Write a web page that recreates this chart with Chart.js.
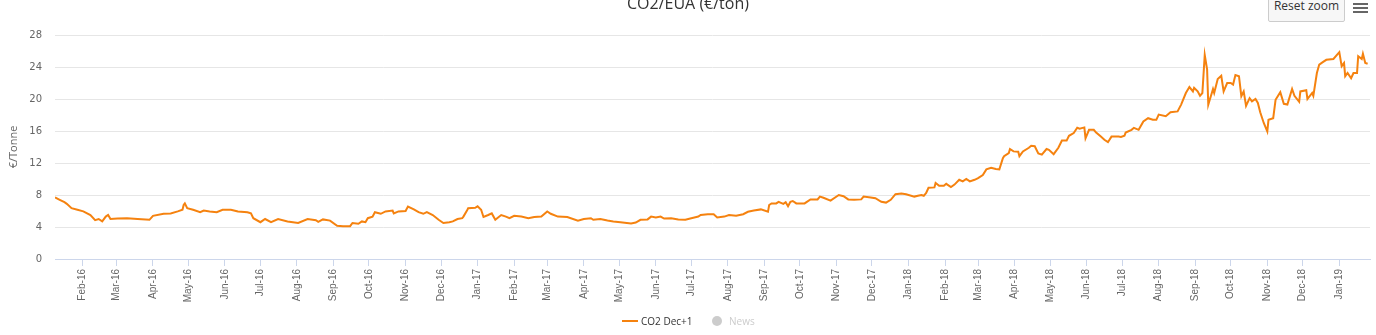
<!DOCTYPE html>
<html>
<head>
<meta charset="utf-8">
<title>CO2/EUA</title>
<script src="https://cdn.jsdelivr.net/npm/chart.js@4.4.1/dist/chart.umd.min.js"></script>
<style>
    body { margin: 0; background: #fff; }
    #contenedor { position: relative; width: 1376px; height: 335px; overflow: hidden; font-family: 'Open Sans', sans-serif; }
    #grafica { position: absolute; left: 0; top: 0; }
    .titulo { position: absolute; left: 0; top: -7px; width: 1376px; text-align: center; font-size: 16px; line-height: 20px; color: #333; }
    .reset { position: absolute; left: 1268px; top: -10px; width: 77px; height: 32px; box-sizing: border-box; background: #f7f7f7; border: 1px solid #ccc; border-radius: 2px; font-size: 12px; line-height: 30px; color: #333; text-align: center; }
    .menu span { position: absolute; left: 1353px; width: 15px; height: 2px; background: #666; }
    .leyenda { position: absolute; top: 314px; font-size: 10px; line-height: 14px; white-space: nowrap; }
</style>
</head>
<body>
<div id="contenedor">
    <canvas id="grafica" width="1376" height="335"></canvas>
    <div class="titulo">CO2/EUA (€/ton)</div>
    <div class="reset">Reset zoom</div>
    <div class="menu"><span style="top:3px"></span><span style="top:7px"></span><span style="top:11px"></span></div>
    <div style="position:absolute; left:622px; top:320px; width:16px; height:2px; background:#f5820f;"></div>
    <div class="leyenda" style="left:641px; color:#333;">CO2 Dec+1</div>
    <div style="position:absolute; left:712px; top:316px; width:10px; height:10px; border-radius:50%; background:#ccc;"></div>
    <div class="leyenda" style="left:729px; color:#ccc;">News</div>
</div>
<script>
// Precio CO2 Dec+1 (€/tonne), por año; cada línea es un mes
const fechas2016 = [
    '2016-01-09', '2016-01-13', '2016-01-17', '2016-01-19', '2016-01-23', '2016-01-28',
    '2016-02-02', '2016-02-08', '2016-02-12', '2016-02-15', '2016-02-18', '2016-02-21', '2016-02-23', '2016-02-25',
    '2016-03-02', '2016-03-10', '2016-03-19', '2016-03-29',
    '2016-04-01', '2016-04-10', '2016-04-16', '2016-04-22', '2016-04-26', '2016-04-27', '2016-04-28', '2016-04-30',
    '2016-05-05', '2016-05-11', '2016-05-14', '2016-05-19', '2016-05-25', '2016-05-30',
    '2016-06-06', '2016-06-12', '2016-06-20', '2016-06-23', '2016-06-25',
    '2016-07-01', '2016-07-05', '2016-07-10', '2016-07-16', '2016-07-24',
    '2016-08-02', '2016-08-10', '2016-08-17', '2016-08-19', '2016-08-23', '2016-08-29',
    '2016-09-04', '2016-09-09', '2016-09-15', '2016-09-17', '2016-09-22', '2016-09-25', '2016-09-28', '2016-09-30',
    '2016-10-04', '2016-10-06', '2016-10-11', '2016-10-15', '2016-10-21', '2016-10-22', '2016-10-26',
    '2016-11-01', '2016-11-03', '2016-11-08', '2016-11-12', '2016-11-16', '2016-11-19', '2016-11-24', '2016-11-29',
    '2016-12-03', '2016-12-08', '2016-12-11', '2016-12-15', '2016-12-19', '2016-12-20', '2016-12-23', '2016-12-24', '2016-12-30'
];
const valores2016 = [
    7.7, 7.4, 7.1, 6.9, 6.35, 6.15,
    5.95, 5.5, 4.85, 5.0, 4.7, 5.3, 5.5, 5.0,
    5.05, 5.1, 5.0, 4.9,
    5.4, 5.65, 5.7, 5.95, 6.15, 6.75, 6.95, 6.35,
    6.15, 5.85, 6.05, 5.95, 5.85, 6.15,
    6.15, 5.95, 5.85, 5.7, 5.1,
    4.6, 5.0, 4.6, 5.0, 4.7,
    4.5, 5.0, 4.85, 4.65, 4.95, 4.8,
    4.15, 4.1, 4.1, 4.5, 4.4, 4.7, 4.6, 5.1,
    5.3, 5.85, 5.65, 5.95, 6.05, 5.7, 5.95,
    6.0, 6.55, 6.2, 5.85, 5.65, 5.85, 5.5, 4.9,
    4.5, 4.6, 4.7, 5.0, 5.1, 5.3, 6.05, 6.35, 6.4
];

const fechas2017 = [
    '2017-01-01', '2017-01-04', '2017-01-06', '2017-01-10', '2017-01-13', '2017-01-16', '2017-01-21', '2017-01-25', '2017-01-28',
    '2017-02-01', '2017-02-07', '2017-02-13', '2017-02-18', '2017-02-24',
    '2017-03-01', '2017-03-04', '2017-03-10', '2017-03-18', '2017-03-27',
    '2017-04-01', '2017-04-07', '2017-04-09', '2017-04-15', '2017-04-21', '2017-04-26',
    '2017-05-02', '2017-05-11', '2017-05-15', '2017-05-19', '2017-05-25', '2017-05-28',
    '2017-06-01', '2017-06-05', '2017-06-08', '2017-06-14', '2017-06-20', '2017-06-26',
    '2017-07-01', '2017-07-07', '2017-07-09', '2017-07-15', '2017-07-20', '2017-07-23', '2017-07-29',
    '2017-08-02', '2017-08-08', '2017-08-14', '2017-08-18', '2017-08-23', '2017-08-29',
    '2017-09-04', '2017-09-05', '2017-09-07', '2017-09-11', '2017-09-13', '2017-09-17', '2017-09-19', '2017-09-21', '2017-09-23', '2017-09-25', '2017-09-28',
    '2017-10-05', '2017-10-10', '2017-10-16', '2017-10-18', '2017-10-21', '2017-10-27',
    '2017-11-03', '2017-11-07', '2017-11-11', '2017-11-16', '2017-11-22', '2017-11-24', '2017-11-30',
    '2017-12-04', '2017-12-09', '2017-12-13', '2017-12-17', '2017-12-21', '2017-12-26', '2017-12-30'
];
const valores2017 = [
    6.6, 6.15, 5.25, 5.5, 5.7, 4.9, 5.5, 5.3, 5.1,
    5.4, 5.3, 5.1, 5.25, 5.3,
    5.95, 5.65, 5.3, 5.25, 4.8,
    5.0, 5.1, 4.9, 5.0, 4.8, 4.7,
    4.6, 4.45, 4.55, 4.9, 4.95, 5.3,
    5.2, 5.3, 5.05, 5.1, 4.95, 4.9,
    5.1, 5.3, 5.5, 5.6, 5.6, 5.2, 5.3,
    5.5, 5.4, 5.6, 5.9, 6.05, 6.2,
    5.9, 6.75, 6.95, 6.95, 7.15, 6.9, 7.1, 6.6, 7.15, 7.25, 6.95,
    6.95, 7.45, 7.45, 7.8, 7.65, 7.3,
    8.0, 7.85, 7.45, 7.4, 7.45, 7.8, 7.7,
    7.6, 7.15, 7.05, 7.4, 8.1, 8.2, 8.1
];

const fechas2018 = [
    '2018-01-06', '2018-01-09', '2018-01-12', '2018-01-14', '2018-01-16', '2018-01-18', '2018-01-23', '2018-01-24', '2018-01-27', '2018-01-31',
    '2018-02-02', '2018-02-06', '2018-02-09', '2018-02-13', '2018-02-16', '2018-02-19', '2018-02-22', '2018-02-26',
    '2018-03-01', '2018-03-05', '2018-03-08', '2018-03-12', '2018-03-16', '2018-03-19', '2018-03-22', '2018-03-23', '2018-03-27', '2018-03-28', '2018-03-31',
    '2018-04-04', '2018-04-05', '2018-04-08', '2018-04-13', '2018-04-15', '2018-04-18', '2018-04-21', '2018-04-24', '2018-04-28', '2018-04-30',
    '2018-05-04', '2018-05-08', '2018-05-11', '2018-05-15', '2018-05-17', '2018-05-21', '2018-05-24', '2018-05-26', '2018-05-30', '2018-05-31',
    '2018-06-03', '2018-06-07', '2018-06-09', '2018-06-13', '2018-06-16', '2018-06-19', '2018-06-22', '2018-06-28', '2018-06-30',
    '2018-07-03', '2018-07-04', '2018-07-09', '2018-07-11', '2018-07-15', '2018-07-19', '2018-07-23', '2018-07-27', '2018-07-30',
    '2018-08-01', '2018-08-07', '2018-08-11', '2018-08-17', '2018-08-20', '2018-08-24', '2018-08-27', '2018-08-30', '2018-08-31',
    '2018-09-03', '2018-09-05', '2018-09-07', '2018-09-09', '2018-09-11', '2018-09-12', '2018-09-15', '2018-09-16', '2018-09-17', '2018-09-20', '2018-09-23', '2018-09-25', '2018-09-28',
    '2018-10-01', '2018-10-03', '2018-10-05', '2018-10-08', '2018-10-10', '2018-10-12', '2018-10-14', '2018-10-17', '2018-10-19', '2018-10-22', '2018-10-24', '2018-10-26', '2018-10-29',
    '2018-11-01', '2018-11-02', '2018-11-06', '2018-11-08', '2018-11-12', '2018-11-15', '2018-11-18', '2018-11-22', '2018-11-24', '2018-11-28', '2018-11-29',
    '2018-12-04', '2018-12-05', '2018-12-09', '2018-12-10', '2018-12-13', '2018-12-15', '2018-12-18', '2018-12-21', '2018-12-27'
];
const valores2018 = [
    7.8, 7.9, 8.0, 7.9, 8.25, 8.9, 8.95, 9.5, 9.15, 9.15,
    9.4, 9.0, 9.3, 9.9, 9.7, 10.0, 9.7, 9.9,
    10.1, 10.5, 11.2, 11.4, 11.25, 11.2, 12.6, 12.85, 13.25, 13.75, 13.45,
    13.4, 12.85, 13.45, 13.9, 14.15, 14.1, 13.2, 13.05, 13.75, 13.65,
    13.1, 13.9, 14.8, 14.8, 15.4, 15.75, 16.4, 16.3, 16.45, 15.1,
    16.15, 16.15, 15.8, 15.3, 14.9, 14.6, 15.3, 15.3, 15.25,
    15.4, 15.8, 16.15, 16.4, 16.15, 17.2, 17.6, 17.4, 17.4,
    18.05, 17.85, 18.35, 18.45, 19.3, 20.75, 21.5, 20.95, 21.4,
    20.95, 20.4, 20.75, 25.5, 23.7, 19.3, 20.75, 21.25, 20.75, 22.5, 22.9, 20.95, 22.0,
    22.0, 21.8, 23.0, 22.85, 20.35, 20.95, 19.15, 20.1, 19.7, 20.0, 19.5, 18.35, 17.0,
    15.95, 17.4, 17.6, 19.9, 20.85, 19.4, 19.3, 21.25, 20.4, 19.65, 20.95,
    21.1, 20.0, 20.75, 20.4, 23.25, 24.3, 24.6, 24.9, 25.0
];

const fechas2019 = [
    '2019-01-01', '2019-01-03', '2019-01-05', '2019-01-06', '2019-01-08', '2019-01-11', '2019-01-13', '2019-01-16', '2019-01-17', '2019-01-20', '2019-01-21', '2019-01-23', '2019-01-25'
];
const valores2019 = [
    25.85, 24.1, 24.5, 22.85, 23.25, 22.6, 23.25, 23.25, 25.35, 25.0, 25.65, 24.5, 24.4
];

// Etiquetas del eje X (inicio de cada mes)
const etiquetasMes = [
    'Feb-16', 'Mar-16', 'Apr-16', 'May-16', 'Jun-16', 'Jul-16', 'Aug-16', 'Sep-16', 'Oct-16', 'Nov-16', 'Dec-16',
    'Jan-17', 'Feb-17', 'Mar-17', 'Apr-17', 'May-17', 'Jun-17', 'Jul-17', 'Aug-17', 'Sep-17', 'Oct-17', 'Nov-17', 'Dec-17',
    'Jan-18', 'Feb-18', 'Mar-18', 'Apr-18', 'May-18', 'Jun-18', 'Jul-18', 'Aug-18', 'Sep-18', 'Oct-18', 'Nov-18', 'Dec-18',
    'Jan-19'
];
const ticksY = [0, 4, 8, 12, 16, 20, 24, 28];

document.addEventListener('DOMContentLoaded', function () {
    const ctx = document.getElementById('grafica').getContext('2d');
    const nombresMes = ['Jan', 'Feb', 'Mar', 'Apr', 'May', 'Jun', 'Jul', 'Aug', 'Sep', 'Oct', 'Nov', 'Dec'];

    const fechas = fechas2016.concat(fechas2017, fechas2018, fechas2019);
    const valores = valores2016.concat(valores2017, valores2018, valores2019);
    const puntos = fechas.map((f, i) => ({ x: Date.parse(f), y: valores[i] }));

    // 'Feb-16' -> timestamp del día 1 de ese mes
    const posMes = etiquetasMes.map(e => {
        const [m, a] = e.split('-');
        return Date.UTC(2000 + parseInt(a, 10), nombresMes.indexOf(m), 1);
    });

    const colorLinea = '#f5820f';

    new Chart(ctx, {
        type: 'line',
        data: {
            datasets: [{
                label: 'CO2 Dec+1',
                data: puntos,
                borderColor: colorLinea,
                backgroundColor: colorLinea,
                borderWidth: 2,
                pointRadius: 0,
                tension: 0
            }]
        },
        options: {
            responsive: false,
            animation: false,
            layout: { padding: { top: 35, right: 6, bottom: 0, left: 0 } },
            plugins: {
                legend: { display: false },
                title: { display: false },
                tooltip: { enabled: false }
            },
            scales: {
                x: {
                    type: 'linear',
                    min: Date.parse('2016-01-09'),
                    max: Date.parse('2019-01-27'),
                    afterBuildTicks: scale => { scale.ticks = posMes.map(v => ({ value: v })); },
                    afterFit: scale => { scale.height = 76; },
                    ticks: {
                        autoSkip: false,
                        minRotation: 90,
                        maxRotation: 90,
                        padding: 3,
                        color: '#666',
                        font: { family: 'Liberation Sans', size: 10 },
                        callback: (v, i) => etiquetasMes[i]
                    },
                    grid: { drawOnChartArea: false, drawTicks: true, tickLength: 7, color: '#ccd6eb' },
                    border: { display: true, color: '#ccd6eb', width: 1 }
                },
                y: {
                    min: 0,
                    max: 28,
                    afterBuildTicks: scale => { scale.ticks = ticksY.map(v => ({ value: v })); },
                    afterFit: scale => { scale.width = 55; },
                    ticks: {
                        padding: 13,
                        color: '#666',
                        font: { family: 'DejaVu Sans', size: 10 }
                    },
                    grid: {
                        drawTicks: false,
                        color: c => (c.tick && c.tick.value === 0) ? 'rgba(0,0,0,0)' : '#e6e6e6'
                    },
                    border: { display: false },
                    title: {
                        display: true,
                        text: '€/Tonne',
                        color: '#666',
                        font: { family: 'Open Sans', size: 11 },
                        padding: { top: 7, bottom: 0 }
                    }
                }
            }
        }
    });
});
</script>
</body>
</html>
